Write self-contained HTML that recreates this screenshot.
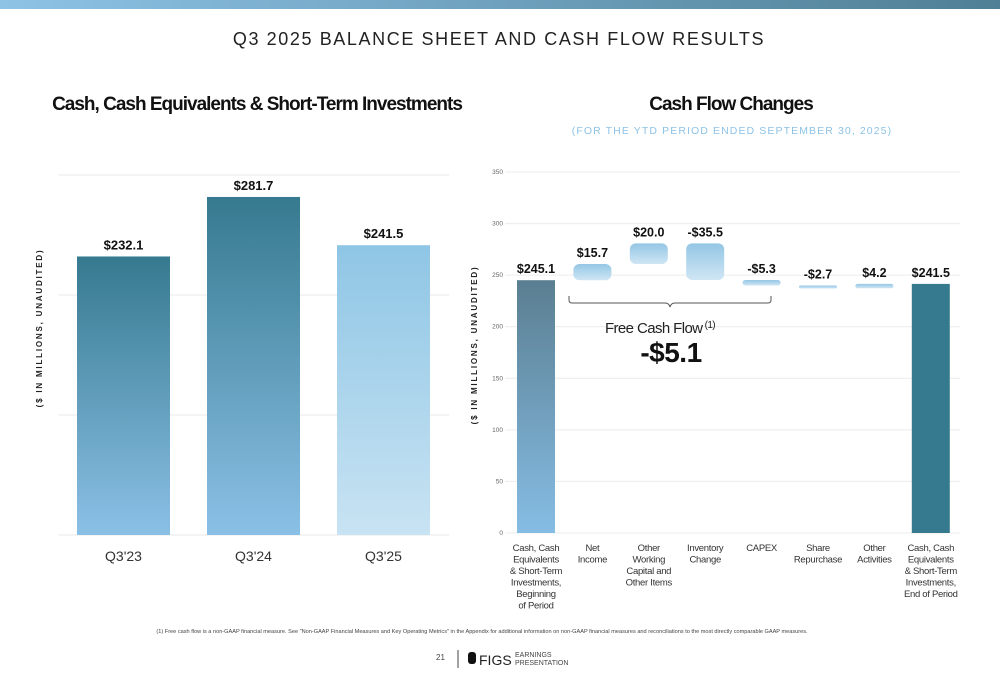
<!DOCTYPE html>
<html><head><meta charset="utf-8">
<style>
body{margin:0;width:1000px;height:685px;background:#fff;font-family:"Liberation Sans",sans-serif;overflow:hidden;position:relative}
</style></head>
<body>
<svg id="s" width="1000" height="685" xmlns="http://www.w3.org/2000/svg" style="position:absolute;left:0;top:0">
<defs>
<linearGradient id="top" x1="0" x2="1"><stop offset="0" stop-color="#8ec3e6"/><stop offset="1" stop-color="#4f7f95"/></linearGradient>
<linearGradient id="g1" x1="0" y1="0" x2="0" y2="1"><stop offset="0" stop-color="#367a8f"/><stop offset="1" stop-color="#8bc0e6"/></linearGradient>
<linearGradient id="g3" x1="0" y1="0" x2="0" y2="1"><stop offset="0" stop-color="#8fc6e5"/><stop offset="1" stop-color="#c8e3f3"/></linearGradient>
<linearGradient id="gs" x1="0" y1="0" x2="0" y2="1"><stop offset="0" stop-color="#5a7e91"/><stop offset="1" stop-color="#86bde4"/></linearGradient>
<linearGradient id="gf" x1="0" y1="0" x2="0" y2="1"><stop offset="0" stop-color="#94c6e5"/><stop offset="1" stop-color="#cfe6f4"/></linearGradient>
</defs>
<rect x="0" y="0" width="1000" height="9" fill="url(#top)"/>
<text x="499" y="45" text-anchor="middle" font-size="18" letter-spacing="1.6" fill="#222">Q3 2025 BALANCE SHEET AND CASH FLOW RESULTS</text>
<text x="257" y="110" text-anchor="middle" font-size="19" font-weight="bold" letter-spacing="-1" fill="#111">Cash, Cash Equivalents &amp; Short-Term Investments</text>
<text x="731" y="110" text-anchor="middle" font-size="19" font-weight="bold" letter-spacing="-1" fill="#111">Cash Flow Changes</text>
<text x="732" y="134" text-anchor="middle" font-size="10.5" letter-spacing="1.1" fill="#8ec3e6">(FOR THE YTD PERIOD ENDED SEPTEMBER 30, 2025)</text>
<text transform="translate(42,328) rotate(-90)" text-anchor="middle" font-size="8" font-weight="bold" letter-spacing="1.8" fill="#222">($ IN MILLIONS, UNAUDITED)</text>
<text transform="translate(477,345) rotate(-90)" text-anchor="middle" font-size="8" font-weight="bold" letter-spacing="1.8" fill="#222">($ IN MILLIONS, UNAUDITED)</text>
<g id="left"></g>
<g id="right"></g>
<path d="M569 296 v4 q0 3 3 3 h93 q4 0 5 4 q1 -4 5 -4 h93 q3 0 3 -3 v-4" fill="none" stroke="#555" stroke-width="1"/>
<text x="660" y="333" text-anchor="middle" font-size="15" letter-spacing="-0.6" fill="#222">Free Cash Flow<tspan font-size="10" dy="-5"> (1)</tspan></text>
<text x="671" y="362" text-anchor="middle" font-size="28" font-weight="bold" letter-spacing="-0.5" fill="#111">-$5.1</text>
<text x="482" y="633" text-anchor="middle" font-size="5.6" fill="#444">(1)  Free cash flow is a  non-GAAP financial measure. See "Non-GAAP Financial Measures and Key Operating Metrics" in the Appendix for additional information on non-GAAP financial measures and reconciliations to the most directly comparable GAAP measures.</text>
<text x="436" y="660" font-size="8" fill="#444">21</text>
<line x1="458" y1="650" x2="458" y2="668" stroke="#444" stroke-width="1"/>
<rect x="468" y="652" width="8" height="12" rx="3" fill="#111"/>
<text x="479" y="665" font-size="14" fill="#222">FIGS</text>
<text x="515" y="657" font-size="7" fill="#444">EARNINGS</text>
<text x="515" y="665" font-size="7" fill="#444">PRESENTATION</text>
</svg>
<script>
const leftCats=["Q3'23","Q3'24","Q3'25"];
const leftVals=[232.1,281.7,241.5];
const leftTicks=[0,100,200,300];
const wfCats=[["Cash, Cash","Equivalents","& Short-Term","Investments,","Beginning","of Period"],["Net","Income"],["Other","Working","Capital and","Other Items"],["Inventory","Change"],["CAPEX"],["Share","Repurchase"],["Other","Activities"],["Cash, Cash","Equivalents","& Short-Term","Investments,","End of Period"]];
const wfVals=[245.1,15.7,20.0,-35.5,-5.3,-2.7,4.2,241.5];
const wfLabels=["$245.1","$15.7","$20.0","-$35.5","-$5.3","-$2.7","$4.2","$241.5"];
const wfTicks=[0,50,100,150,200,250,300,350];
const NS="http://www.w3.org/2000/svg";
function mk(p,t,a){const e=document.createElementNS(NS,t);for(const k in a)e.setAttribute(k,a[k]);p.appendChild(e);return e;}
// left
const L=document.getElementById('left');
const ly=v=>535-v*1.2, lx=i=>77+i*130;
leftTicks.forEach(t=>{const l=mk(L,'line',{x1:58,x2:449,y1:ly(t),y2:ly(t),stroke:'#e8e8e8'});

});
const fills=['url(#g1)','url(#g1)','url(#g3)'];
leftVals.forEach((v,i)=>{
 const r=mk(L,'rect',{x:lx(i),y:ly(v),width:93,height:ly(0)-ly(v),fill:fills[i]});
 
 
 const t=mk(L,'text',{x:lx(i)+46.5,y:ly(v)-7,'text-anchor':'middle','font-size':13,'font-weight':'bold',fill:'#111'});t.textContent='$'+v.toFixed(1);
 
 
 const c=mk(L,'text',{x:lx(i)+46.5,y:561,'text-anchor':'middle','font-size':14,fill:'#333'});c.textContent=leftCats[i];
 
 
});
// right
const R=document.getElementById('right');
const ry=v=>533-v*(361/350), rc=i=>536+i*56.4;
wfTicks.forEach(t=>{const l=mk(R,'line',{x1:505,x2:960,y1:ry(t),y2:ry(t),stroke:'#ececec'});


const tx=mk(R,'text',{x:503,y:ry(t)+2,'text-anchor':'end','font-size':6.5,fill:'#666'});tx.textContent=t;

});
let run=0;
wfVals.forEach((v,i)=>{
 let a,b,fill,rx=0;
 const last=i===wfVals.length-1;
 if(i===0||last){a=0;b=v;run=v;fill=i===0?'url(#gs)':'#367a8f';}
 else{a=run;b=run+v;run=b;fill='url(#gf)';rx=Math.min(6,Math.abs(ry(a)-ry(b))/2);}
 const top=ry(Math.max(a,b)),h=Math.max(3,Math.abs(ry(a)-ry(b)));
 const r=mk(R,'rect',{x:rc(i)-19,y:top,width:38,height:h,fill:fill,rx:rx});
 
 
 const t=mk(R,'text',{x:rc(i),y:top-7,'text-anchor':'middle','font-size':12.5,'font-weight':'bold',fill:'#111'});t.textContent=wfLabels[i];
 
 
 wfCats[i].forEach((ln,j)=>{const c=mk(R,'text',{x:rc(i),y:551+j*11.5,'text-anchor':'middle','font-size':9.5,'letter-spacing':-0.3,fill:'#333'});c.textContent=ln;
 
 });
});
</script>
</body></html>
